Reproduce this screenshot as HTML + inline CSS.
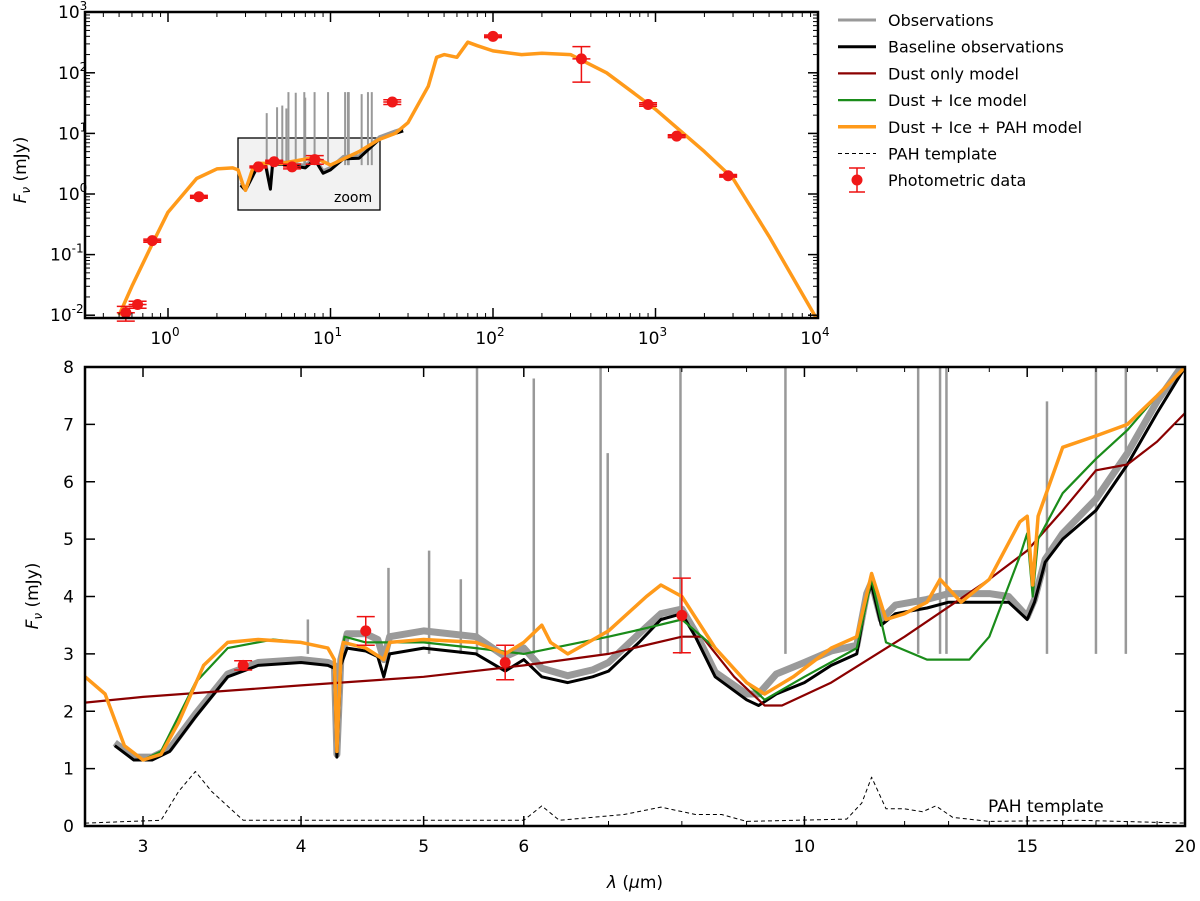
<!DOCTYPE html>
<html><head><meta charset="utf-8">
<style>
body{margin:0;background:#fff;}
svg{font-family:"DejaVu Sans","Liberation Sans",sans-serif;}
</style></head>
<body>
<svg id="chart" width="1200" height="896" xmlns="http://www.w3.org/2000/svg"></svg>
<script>
// ---------- DATA ----------
const baseWl=[2.85,2.95,3.05,3.15,3.3,3.5,3.7,4.0,4.2,4.25,4.27,4.3,4.35,4.5,4.6,4.65,4.7,5.0,5.5,5.8,6.0,6.2,6.5,6.8,7.0,7.4,7.7,8.0,8.2,8.5,9.0,9.2,9.5,10,10.5,11.0,11.2,11.3,11.5,11.8,12.5,13,14,14.5,15,15.2,15.5,16,17,18,19,20];
const baseFx=[1.4,1.15,1.15,1.3,1.9,2.6,2.8,2.85,2.8,2.75,1.2,2.8,3.1,3.05,2.95,2.6,3.0,3.1,3.0,2.7,2.9,2.6,2.5,2.6,2.7,3.2,3.6,3.7,3.3,2.6,2.2,2.1,2.3,2.5,2.8,3.0,4.0,4.2,3.5,3.7,3.8,3.9,3.9,3.9,3.6,3.9,4.6,5.0,5.5,6.3,7.2,8.0];
const obsOffset=[0.05,0.05,0.05,0.05,0.05,0.05,0.05,0.05,0.05,0.05,0.05,0.1,0.25,0.3,0.3,0.3,0.3,0.3,0.3,0.25,0.2,0.15,0.12,0.12,0.15,0.15,0.1,0.08,0.08,0.08,0.1,0.2,0.35,0.35,0.25,0.15,0.05,0.05,0.1,0.15,0.15,0.15,0.15,0.1,0.05,0.05,0.05,0.1,0.2,0.2,0.2,0.1];
const lineWl=[4.05,4.69,5.05,5.35,5.51,6.11,6.9,6.99,7.98,9.66,12.3,12.8,12.95,15.55,17.0,17.95];
const lineFx=[3.6,4.5,4.8,4.3,8,7.8,8,6.5,8,8,8,8,8,7.4,8,8];
const orWl=[2.7,2.8,2.9,3.0,3.1,3.2,3.35,3.5,3.7,4.0,4.2,4.25,4.27,4.3,4.32,4.5,4.65,4.7,5.0,5.5,5.8,6.0,6.2,6.3,6.5,7.0,7.5,7.7,8.0,8.5,9.0,9.3,9.8,10.5,11.0,11.3,11.6,12,12.5,12.8,13.3,14,14.8,15.0,15.15,15.3,16,17,18,19,20];
const orFx=[2.6,2.3,1.4,1.15,1.25,1.8,2.8,3.2,3.25,3.2,3.1,2.9,1.3,2.9,3.2,3.1,2.9,3.2,3.25,3.2,3.0,3.2,3.5,3.2,3.0,3.4,4.0,4.2,4.0,3.1,2.5,2.3,2.6,3.1,3.3,4.4,3.6,3.7,3.9,4.3,3.9,4.3,5.3,5.4,4.2,5.4,6.6,6.8,7.0,7.5,8.0];
const grWl=[2.9,3.0,3.1,3.3,3.5,3.8,4.0,4.2,4.25,4.27,4.3,4.33,4.5,5,5.5,6,7,7.5,8,8.5,9.0,9.3,10,11,11.3,11.6,12.5,13.5,14,14.8,15.0,15.15,15.3,16,17,18,19,20];
const grFx=[1.4,1.15,1.3,2.5,3.1,3.25,3.2,3.1,2.9,1.3,2.9,3.3,3.2,3.2,3.1,3.0,3.3,3.45,3.6,3.1,2.5,2.2,2.6,3.1,4.3,3.2,2.9,2.9,3.3,4.7,5.1,4.0,5.0,5.8,6.4,6.9,7.5,8.0];
const rdWl=[2.7,3.0,4,5,6,7,8,8.3,8.8,9.3,9.6,10.5,12,14,15,16,17,18,19,20];
const rdFx=[2.15,2.25,2.45,2.6,2.8,3.0,3.3,3.3,2.6,2.1,2.1,2.5,3.3,4.3,4.8,5.5,6.2,6.3,6.7,7.2];
const pahWl=[2.7,3.1,3.2,3.3,3.4,3.6,6.0,6.2,6.4,7.2,7.7,8.2,8.6,9.0,10.8,11.1,11.3,11.6,12.0,12.4,12.7,13.1,14,16.5,20];
const pahFx=[0.05,0.1,0.6,0.95,0.6,0.1,0.1,0.35,0.1,0.2,0.33,0.2,0.2,0.08,0.12,0.4,0.85,0.3,0.3,0.25,0.35,0.15,0.08,0.1,0.05];
const phWl=[3.6,4.5,5.8,8.0];
const phFx=[2.8,3.4,2.85,3.67];
const phEr=[0.08,0.25,0.3,0.65];
const sedWl=[0.5,0.6,0.8,1.0,1.5,2.0,2.5,2.7,2.9,3.0,3.3,3.5,5,8,10,15,20,25,30,40,45,50,60,70,80,100,150,200,300,500,1000,2000,3000,5000,10000];
const sedFx=[0.01,0.03,0.15,0.5,1.8,2.6,2.7,2.5,1.4,1.15,2.5,3.2,3.2,4,3,5,8,10,15,60,180,200,180,320,280,230,200,210,200,100,25,5,1.8,0.2,0.008];
const tObsWl=[2.8,3.0,3.5,4.0,4.27,4.4,5,6,7,8,9,10,12,15,20,25,28];
const tObsFx=[1.4,1.15,2.6,2.85,1.2,3.1,3.1,2.9,2.7,3.7,2.2,2.5,3.8,3.9,8,10,11];
const tPhWl=[0.55,0.65,0.8,1.55,3.6,4.5,5.8,8,24,100,350,900,1350,2800];
const tPhFx=[0.011,0.015,0.17,0.9,2.8,3.4,2.8,3.7,33,400,170,30,9,2];
const tPhLo=[0.008,0.013,0.16,0.85,2.7,3.2,2.6,3.1,30,380,70,28,8.5,1.9];
const tPhHi=[0.014,0.017,0.18,0.95,2.9,3.6,3.1,4.3,36,420,270,32,9.5,2.1];

// ---------- helpers ----------
const svg=document.getElementById('chart');
const NS='http://www.w3.org/2000/svg';
function mk(tag,attrs,parent){const e=document.createElementNS(NS,tag);for(const k in attrs)e.setAttribute(k,attrs[k]);(parent||svg).appendChild(e);return e;}
const L=Math.log10;
const TX=v=>168+162.5*L(v), TY=v=>194-60.6*L(v);
const BX=v=>143+1265*L(v/3), BY=v=>826-57.375*v;

function path(xs,ys,fx,fy,style,name,parent){
  let d='';xs.forEach((x,i)=>{d+=(i?'L':'M')+fx(x).toFixed(1)+','+fy(ys[i]).toFixed(1);});
  const p=mk('path',Object.assign({d:d,fill:'none','stroke-linejoin':'round'},style),parent);
  
  
  return p;
}
function txt(x,y,s,attrs,name){const t=mk('text',Object.assign({x:x,y:y,'font-size':17},attrs||{}));t.textContent=s;return t;}

const defs=mk('defs',{});
const c1=mk('clipPath',{id:'ct'},defs);mk('rect',{x:85,y:12,width:733,height:306},c1);
const c2=mk('clipPath',{id:'cb'},defs);mk('rect',{x:85,y:367,width:1100,height:459},c2);

// ======== TOP PANEL ========
const gt=mk('g',{'clip-path':'url(#ct)'});
const zb=mk('rect',{x:238,y:138,width:142,height:72,fill:'#f2f2f2',stroke:'#000','stroke-width':1.3},gt);

txt(334,202,'zoom',{'font-size':14},'zoom-label');
lineWl.forEach((w,i)=>{const l=mk('line',{x1:TX(w),x2:TX(w),y1:TY(3),y2:TY(lineFx[i]*6),stroke:'#999','stroke-width':2},gt);});
path(tObsWl,tObsFx.map(v=>v*1.1),TX,TY,{stroke:'#999','stroke-width':3},'top-observations',gt);
path(tObsWl,tObsFx,TX,TY,{stroke:'#000','stroke-width':3},'top-baseline',gt);
path(sedWl,sedFx,TX,TY,{stroke:'#ff9a1a','stroke-width':3.5},'top-dust-ice-pah-model',gt);
tPhWl.forEach((w,i)=>{
  const g=mk('g',{});
  mk('line',{x1:TX(w),x2:TX(w),y1:TY(tPhLo[i]),y2:TY(tPhHi[i]),stroke:'#e11','stroke-width':1.5},g);
  mk('line',{x1:TX(w)-9,x2:TX(w)+9,y1:TY(tPhLo[i]),y2:TY(tPhLo[i]),stroke:'#e11','stroke-width':1.5},g);
  mk('line',{x1:TX(w)-9,x2:TX(w)+9,y1:TY(tPhHi[i]),y2:TY(tPhHi[i]),stroke:'#e11','stroke-width':1.5},g);
  mk('line',{x1:TX(w)-9,x2:TX(w)+9,y1:TY(tPhFx[i]),y2:TY(tPhFx[i]),stroke:'#e11','stroke-width':1.5},g);
  mk('circle',{cx:TX(w),cy:TY(tPhFx[i]),r:5.5,fill:'#f01818'},g);
});
const ft=mk('rect',{x:85,y:12,width:733,height:306,fill:'none',stroke:'#000','stroke-width':2.5});
[0,1,2,3,4].forEach(p=>{const x=TX(Math.pow(10,p));
  mk('line',{x1:x,x2:x,y1:318,y2:308,stroke:'#000','stroke-width':1.5});mk('line',{x1:x,x2:x,y1:12,y2:22,stroke:'#000','stroke-width':1.5});
  const t=txt(x-3,344,'10',{'text-anchor':'middle'},'top-x-tick-label');const s=mk('tspan',{dy:-8,'font-size':12},t);s.textContent=p;});
for(let p=-1;p<4;p++)for(let m=2;m<10;m++){const v=m*Math.pow(10,p);if(v<0.31)continue;const x=TX(v);mk('line',{x1:x,x2:x,y1:318,y2:313,stroke:'#000'});mk('line',{x1:x,x2:x,y1:12,y2:17,stroke:'#000'});}
[-2,-1,0,1,2,3].forEach(p=>{const y=TY(Math.pow(10,p));
  mk('line',{x1:85,x2:95,y1:y,y2:y,stroke:'#000','stroke-width':1.5});mk('line',{x1:818,x2:808,y1:y,y2:y,stroke:'#000','stroke-width':1.5});
  const t=txt(p<0?50:58,y+6,'10',{},'top-y-tick-label');const s=mk('tspan',{dy:-8,'font-size':12},t);s.textContent=p;});
for(let p=-3;p<3;p++)for(let m=2;m<10;m++){const y=TY(m*Math.pow(10,p));if(y>318)continue;mk('line',{x1:85,x2:90,y1:y,y2:y,stroke:'#000'});mk('line',{x1:818,x2:813,y1:y,y2:y,stroke:'#000'});}
const tyt=txt(26,170,'',{transform:'rotate(-90 26 170)','text-anchor':'middle'},'top-y-axis-title');
tyt.innerHTML='<tspan font-style="italic">F</tspan><tspan font-size="12" dy="4" font-style="italic">ν</tspan><tspan dy="-4"> (mJy)</tspan>';

// legend
const leg=[['Observations','#999',3,''],['Baseline observations','#000',3,''],['Dust only model','#8b0000',2.2,''],['Dust + Ice model','#1a8c1a',2.2,''],['Dust + Ice + PAH model','#ff9a1a',3.5,''],['PAH template','#000',1,'4,3']];
leg.forEach((e,i)=>{const y=20+i*26.7;const g=mk('g',{});
  mk('line',{x1:838,x2:876,y1:y,y2:y,stroke:e[1],'stroke-width':e[2],'stroke-dasharray':e[3]},g);
  const t=mk('text',{x:888,y:y+6,'font-size':16},g);t.textContent=e[0];});
{const y=180;const g=mk('g',{});
 mk('line',{x1:857,x2:857,y1:y-12,y2:y+12,stroke:'#e11','stroke-width':1.5},g);mk('line',{x1:849,x2:865,y1:y-12,y2:y-12,stroke:'#e11','stroke-width':1.5},g);mk('line',{x1:849,x2:865,y1:y+12,y2:y+12,stroke:'#e11','stroke-width':1.5},g);
 mk('circle',{cx:857,cy:y,r:5.5,fill:'#f01818'},g);const t=mk('text',{x:888,y:y+6,'font-size':16},g);t.textContent='Photometric data';}

// ======== BOTTOM PANEL ========
const gb=mk('g',{'clip-path':'url(#cb)'});
lineWl.forEach((w,i)=>{const l=mk('line',{x1:BX(w),x2:BX(w),y1:BY(3),y2:BY(lineFx[i]),stroke:'#999','stroke-width':2.5},gb);});
path(baseWl,baseFx.map((v,i)=>v+obsOffset[i]),BX,BY,{stroke:'#9a9a9a','stroke-width':7},'observations',gb);
path(baseWl,baseFx,BX,BY,{stroke:'#000','stroke-width':3},'baseline-observations',gb);
path(rdWl,rdFx,BX,BY,{stroke:'#8b0000','stroke-width':2.2},'dust-only-model',gb);
path(grWl,grFx,BX,BY,{stroke:'#1a8c1a','stroke-width':2.2},'dust-ice-model',gb);
path(orWl,orFx,BX,BY,{stroke:'#ff9a1a','stroke-width':3.5},'dust-ice-pah-model',gb);
path(pahWl,pahFx,BX,BY,{stroke:'#000','stroke-width':1,'stroke-dasharray':'4,3'},'pah-template',gb);
txt(988,812,'PAH template',{},'pah-template-label');
phWl.forEach((w,i)=>{
  const g=mk('g',{},gb);
  const x=BX(w),lo=BY(phFx[i]-phEr[i]),hi=BY(phFx[i]+phEr[i]);
  mk('line',{x1:x,x2:x,y1:lo,y2:hi,stroke:'#e11','stroke-width':1.5},g);
  mk('line',{x1:x-9,x2:x+9,y1:lo,y2:lo,stroke:'#e11','stroke-width':1.5},g);
  mk('line',{x1:x-9,x2:x+9,y1:hi,y2:hi,stroke:'#e11','stroke-width':1.5},g);
  mk('circle',{cx:x,cy:BY(phFx[i]),r:5.5,fill:'#f01818'},g);
});
const fb=mk('rect',{x:85,y:367,width:1100,height:459,fill:'none',stroke:'#000','stroke-width':2.5});
const bxt=[3,4,5,6,10,15,20];
bxt.forEach(v=>{const x=BX(v);mk('line',{x1:x,x2:x,y1:826,y2:816,stroke:'#000','stroke-width':1.5});mk('line',{x1:x,x2:x,y1:367,y2:377,stroke:'#000','stroke-width':1.5});
  txt(x,852,String(v),{'text-anchor':'middle'},'x-tick-label');});
[7,8,9,11,12,13,14,16,17,18,19].forEach(v=>{const x=BX(v);mk('line',{x1:x,x2:x,y1:826,y2:821,stroke:'#000'});mk('line',{x1:x,x2:x,y1:367,y2:372,stroke:'#000'});});
for(let v=0;v<=8;v++){const y=BY(v);mk('line',{x1:85,x2:95,y1:y,y2:y,stroke:'#000','stroke-width':1.5});mk('line',{x1:1185,x2:1175,y1:y,y2:y,stroke:'#000','stroke-width':1.5});
  txt(74,y+6,String(v),{'text-anchor':'end'},'y-tick-label');}
const yt=txt(38,596,'',{transform:'rotate(-90 38 596)','text-anchor':'middle'},'y-axis-title');
yt.innerHTML='<tspan font-style="italic">F</tspan><tspan font-size="12" dy="4" font-style="italic">ν</tspan><tspan dy="-4"> (mJy)</tspan>';
const xt=txt(635,888,'',{'text-anchor':'middle'},'x-axis-title');
xt.innerHTML='<tspan font-style="italic">λ</tspan> (<tspan font-style="italic">μ</tspan>m)';
</script>
</body></html>
